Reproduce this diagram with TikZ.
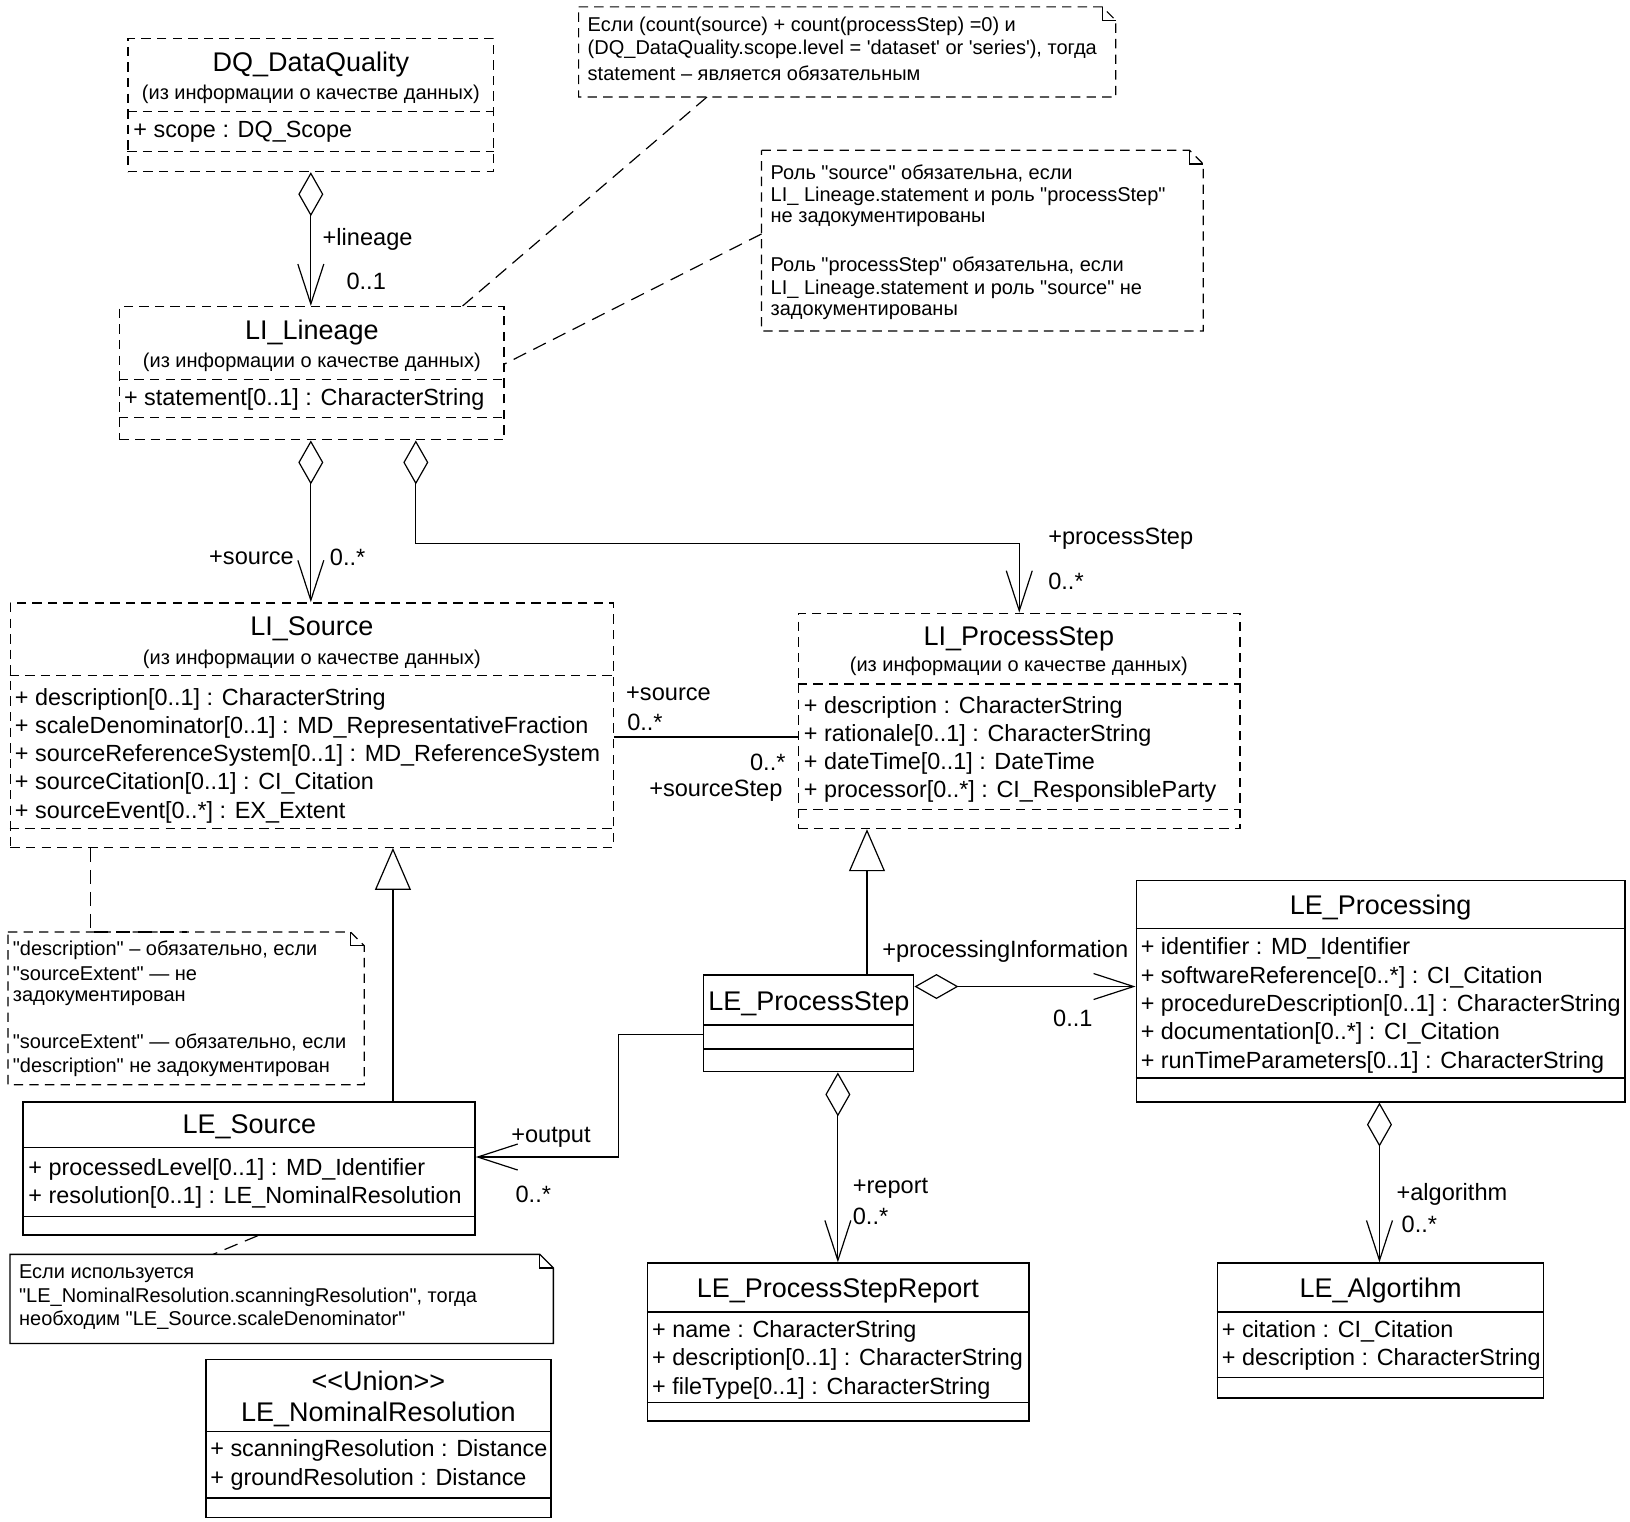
\documentclass[tikz,border=0pt]{standalone}
\usepackage{fontspec}
\newfontfamily\umlfont{Liberation Sans}
\usetikzlibrary{arrows.meta,calc,fit}
\begin{document}
\begin{tikzpicture}[x=0.52pt,y=-0.52pt,font=\umlfont,
  box/.style={draw,line width=0.7pt,inner sep=0pt},
  dbox/.style={box,dash pattern=on 4.7pt off 3.1pt},
  nbox/.style={inner sep=0pt},
  ttl/.style={font=\umlfont\fontsize{13.5}{15}\selectfont,inner sep=0pt,yshift=-1.2pt},
  sub/.style={font=\umlfont\fontsize{10}{12}\selectfont,inner sep=0pt,yshift=-1.2pt},
  attr/.style={font=\umlfont\fontsize{11.7}{13}\selectfont,inner sep=0pt,anchor=west,yshift=-1.3pt},
  lbl/.style={font=\umlfont\fontsize{11.8}{13}\selectfont,inner sep=0pt,yshift=-1.3pt},
  ntxt/.style={font=\umlfont\fontsize{10}{11}\selectfont,inner sep=0pt,anchor=west,yshift=-1pt},
  sepl/.style={line width=0.6pt},
  dsepl/.style={sepl,dash pattern=on 4.7pt off 3.1pt},
  conn/.style={line width=0.6pt},
  agg/.style={conn,{Diamond[open,length=22pt,width=12.5pt]}-{Straight Barb[length=20pt,width=13pt]}},
  nav/.style={conn,-{Straight Barb[length=20pt,width=13pt]}},
  gen/.style={conn,-{Triangle[open,length=21pt,width=18pt]}},
  anchorline/.style={line width=0.6pt,dash pattern=on 7pt off 4pt},
  dnote/.style={line width=0.6pt,dash pattern=on 4.7pt off 3.1pt},
  snote/.style={line width=0.7pt}
]
\useasboundingbox (0,0) rectangle (1568,1464);

% ---------- DQ_DataQuality ----------
\node[dbox,fit={(123,37) (475,165)}] (dq) {};
\node[ttl] (dqT) at (299,60) {DQ\_DataQuality};
\node[sub] (dqS) at (299,88) {(из информации о качестве данных)};
\draw[dsepl] (dq.west |- 0,107) -- (dq.east |- 0,107);
\node[attr] (dqA1) at (128,124) {+ scope : DQ\_Scope};
\draw[dsepl] (dq.west |- 0,146) -- (dq.east |- 0,146);

% ---------- LI_Lineage ----------
\node[dbox,fit={(115,295) (485,423)}] (lin) {};
\node[ttl] (linT) at (300,318) {LI\_Lineage};
\node[sub] (linS) at (300,346) {(из информации о качестве данных)};
\draw[dsepl] (lin.west |- 0,365) -- (lin.east |- 0,365);
\node[attr] (linA1) at (119,382) {+ statement[0..1] : CharacterString};
\draw[dsepl] (lin.west |- 0,402) -- (lin.east |- 0,402);

% ---------- LI_Source ----------
\node[dbox,fit={(10,580) (590,815)}] (src) {};
\node[ttl] (srcT) at (300,603) {LI\_Source};
\node[sub] (srcS) at (300,632) {(из информации о качестве данных)};
\draw[dsepl] (src.west |- 0,650) -- (src.east |- 0,650);
\node[attr] (srcA1) at (14,670) {+ description[0..1] : CharacterString};
\node[attr] (srcA2) at (14,697) {+ scaleDenominator[0..1] : MD\_RepresentativeFraction};
\node[attr] (srcA3) at (14,724) {+ sourceReferenceSystem[0..1] : MD\_ReferenceSystem};
\node[attr] (srcA4) at (14,751) {+ sourceCitation[0..1] : CI\_Citation};
\node[attr] (srcA5) at (14,779) {+ sourceEvent[0..*] : EX\_Extent};
\draw[dsepl] (src.west |- 0,797) -- (src.east |- 0,797);

% ---------- LI_ProcessStep ----------
\node[dbox,fit={(768,590) (1193,797)}] (ps) {};
\node[ttl] (psT) at (980,612) {LI\_ProcessStep};
\node[sub] (psS) at (980,639) {(из информации о качестве данных)};
\draw[dsepl] (ps.west |- 0,658) -- (ps.east |- 0,658);
\node[attr] (psA1) at (773,678) {+ description : CharacterString};
\node[attr] (psA2) at (773,705) {+ rationale[0..1] : CharacterString};
\node[attr] (psA3) at (773,732) {+ dateTime[0..1] : DateTime};
\node[attr] (psA4) at (773,759) {+ processor[0..*] : CI\_ResponsibleParty};
\draw[dsepl] (ps.west |- 0,779) -- (ps.east |- 0,779);

% ---------- LE_ProcessStep ----------
\node[box,fit={(677,938) (879,1031)}] (lps) {};
\node[ttl] (lpsT) at (778,963) {LE\_ProcessStep};
\draw[sepl] (lps.west |- 0,986) -- (lps.east |- 0,986);
\draw[sepl] (lps.west |- 0,1009) -- (lps.east |- 0,1009);

% ---------- LE_Processing ----------
\node[box,fit={(1093,847) (1563,1060)}] (proc) {};
\node[ttl] (procT) at (1328,871) {LE\_Processing};
\draw[sepl] (proc.west |- 0,893) -- (proc.east |- 0,893);
\node[attr] (procA1) at (1097,910) {+ identifier : MD\_Identifier};
\node[attr] (procA2) at (1097,938) {+ softwareReference[0..*] : CI\_Citation};
\node[attr] (procA3) at (1097,965) {+ procedureDescription[0..1] : CharacterString};
\node[attr] (procA4) at (1097,992) {+ documentation[0..*] : CI\_Citation};
\node[attr] (procA5) at (1097,1020) {+ runTimeParameters[0..1] : CharacterString};
\draw[sepl] (proc.west |- 0,1037) -- (proc.east |- 0,1037);

% ---------- LE_Source ----------
\node[box,fit={(22,1060) (457,1188)}] (les) {};
\node[ttl] (lesT) at (240,1082) {LE\_Source};
\draw[sepl] (les.west |- 0,1104) -- (les.east |- 0,1104);
\node[attr] (lesA1) at (27,1122) {+ processedLevel[0..1] : MD\_Identifier};
\node[attr] (lesA2) at (27,1149) {+ resolution[0..1] : LE\_NominalResolution};
\draw[sepl] (les.west |- 0,1170) -- (les.east |- 0,1170);

% ---------- LE_ProcessStepReport ----------
\node[box,fit={(623,1215) (990,1367)}] (rep) {};
\node[ttl] (repT) at (806,1239) {LE\_ProcessStepReport};
\draw[sepl] (rep.west |- 0,1262) -- (rep.east |- 0,1262);
\node[attr] (repA1) at (627,1278) {+ name : CharacterString};
\node[attr] (repA2) at (627,1305) {+ description[0..1] : CharacterString};
\node[attr] (repA3) at (627,1333) {+ fileType[0..1] : CharacterString};
\draw[sepl] (rep.west |- 0,1349) -- (rep.east |- 0,1349);

% ---------- LE_Algortihm ----------
\node[box,fit={(1171,1215) (1485,1345)}] (alg) {};
\node[ttl] (algT) at (1328,1239) {LE\_Algortihm};
\draw[sepl] (alg.west |- 0,1262) -- (alg.east |- 0,1262);
\node[attr] (algA1) at (1175,1278) {+ citation : CI\_Citation};
\node[attr] (algA2) at (1175,1305) {+ description : CharacterString};
\draw[sepl] (alg.west |- 0,1325) -- (alg.east |- 0,1325);

% ---------- LE_NominalResolution ----------
\node[box,fit={(198,1308) (530,1460)}] (nom) {};
\node[ttl] (nomU) at (364,1326) {<{}<Union>{}>};
\node[ttl] (nomT) at (364,1358) {LE\_NominalResolution};
\draw[sepl] (nom.west |- 0,1377) -- (nom.east |- 0,1377);
\node[attr] (nomA1) at (202,1393) {+ scanningResolution : Distance};
\node[attr] (nomA2) at (202,1421) {+ groundResolution : Distance};
\draw[sepl] (nom.west |- 0,1441) -- (nom.east |- 0,1441);

% ---------- Notes ----------
% note 1
\node[nbox,fit={(557,7) (1073,93)}] (n1) {};
\draw[dnote] (n1.north west) -- ([xshift=-6.8pt]n1.north east) -- ([yshift=-6.8pt]n1.north east) -- (n1.south east) -- (n1.south west) -- cycle;
\draw[line width=0.6pt] ([xshift=-6.8pt]n1.north east) |- ([yshift=-6.8pt]n1.north east);
\node[ntxt] (n1a) at (565,23) {Если (count(source) + count(processStep) =0) и};
\node[ntxt] (n1b) at (565,46) {(DQ\_DataQuality.scope.level = 'dataset' or 'series'), тогда};
\node[ntxt] (n1c) at (565,69) {statement – является обязательным};

% note 2
\node[nbox,fit={(733,145) (1157,318)}] (n2) {};
\draw[dnote] (n2.north west) -- ([xshift=-6.8pt]n2.north east) -- ([yshift=-6.8pt]n2.north east) -- (n2.south east) -- (n2.south west) -- cycle;
\draw[line width=0.6pt] ([xshift=-6.8pt]n2.north east) |- ([yshift=-6.8pt]n2.north east);
\node[ntxt] (n2a) at (741,165) {Роль "source" обязательна, если};
\node[ntxt] (n2b) at (741,187) {LI\_ Lineage.statement и роль "processStep"};
\node[ntxt] (n2c) at (741,209) {не задокументированы};
\node[ntxt] (n2d) at (741,254) {Роль "processStep" обязательна, если};
\node[ntxt] (n2e) at (741,276) {LI\_ Lineage.statement и роль "source" не};
\node[ntxt] (n2f) at (741,298) {задокументированы};

% note 3
\node[nbox,fit={(8,897) (350,1043)}] (n3) {};
\draw[dnote] (n3.north west) -- ([xshift=-6.8pt]n3.north east) -- ([yshift=-6.8pt]n3.north east) -- (n3.south east) -- (n3.south west) -- cycle;
\draw[line width=0.6pt] ([xshift=-6.8pt]n3.north east) |- ([yshift=-6.8pt]n3.north east);
\node[ntxt] (n3a) at (12,912) {"description" – обязательно, если};
\node[ntxt] (n3b) at (12,935) {"sourceExtent" — не};
\node[ntxt] (n3c) at (12,958) {задокументирован};
\node[ntxt] (n3d) at (12,1001) {"sourceExtent" — обязательно, если};
\node[ntxt] (n3e) at (12,1025) {"description" не задокументирован};

% note 4
\node[nbox,fit={(10,1207) (532,1292)}] (n4) {};
\draw[snote] (n4.north west) -- ([xshift=-6.8pt]n4.north east) -- ([yshift=-6.8pt]n4.north east) -- (n4.south east) -- (n4.south west) -- cycle;
\draw[line width=0.6pt] ([xshift=-6.8pt]n4.north east) |- ([yshift=-6.8pt]n4.north east);
\node[ntxt] (n4a) at (18,1223) {Если используется};
\node[ntxt] (n4b) at (18,1246) {"LE\_NominalResolution.scanningResolution", тогда};
\node[ntxt] (n4c) at (18,1268) {необходим "LE\_Source.scaleDenominator"};

% ---------- Connectors ----------
\draw[agg] (dq.south -| 299,0) -- (lin.north -| 299,0);
\node[lbl,anchor=west] (l1) at (310,228) {+lineage};
\node[lbl,anchor=west] (l2) at (333,268) {0..1};

\draw[agg] (lin.south -| 299,0) -- (src.north -| 299,0);
\node[lbl,anchor=east] (l3) at (283,534) {+source};
\node[lbl,anchor=west] (l4) at (317,534) {0..*};

\draw[agg] (lin.south -| 400,0) |- (ps.north |- 0,523) -- (ps.north);
\node[lbl,anchor=west] (l5) at (1008,516) {+processStep};
\node[lbl,anchor=west] (l6) at (1008,557) {0..*};

\draw[conn] (src.east |- 0,709) -- (ps.west |- 0,709);
\node[lbl,anchor=west] (l7) at (602,665) {+source};
\node[lbl,anchor=west] (l8) at (603,692) {0..*};
\node[lbl,anchor=east] (l9) at (756,731) {0..*};
\node[lbl,anchor=east] (l10) at (753,758) {+sourceStep};

\draw[gen] (lps.north -| 834,0) -- (ps.south -| 834,0);

\draw[agg] (lps.east |- 0,949) -- (proc.west |- 0,949);
\node[lbl] (l11) at (967,913) {+processingInformation};
\node[lbl] (l12) at (1032,977) {0..1};

\draw[nav] (lps.west |- 0,995) -| (595,1113) -- (les.east |- 0,1113);
\node[lbl] (l13) at (530,1092) {+output};
\node[lbl] (l14) at (513,1146) {0..*};

\draw[gen] (les.north -| 378,0) -- (src.south -| 378,0);

\draw[agg] (lps.south -| 806,0) -- (rep.north -| 806,0);
\node[lbl,anchor=west] (l15) at (820,1141) {+report};
\node[lbl,anchor=west] (l16) at (820,1168) {0..*};

\draw[agg] (proc.south -| 1327,0) -- (alg.north -| 1327,0);
\node[lbl,anchor=west] (l17) at (1343,1146) {+algorithm};
\node[lbl,anchor=west] (l18) at (1348,1175) {0..*};

% note anchors
\draw[anchorline] (n1.south -| 680,0) -- (lin.north -| 445,0);
\draw[anchorline] (n2.west |- 0,225) -- (lin.east |- 0,350);
\draw[anchorline] (src.south -| 87,0) |- (n3.north -| 180,855) -- (n3.north -| 180,0);
\draw[anchorline] (les.south -| 248,0) -- (n4.north -| 205,0);
\end{tikzpicture}
\end{document}
